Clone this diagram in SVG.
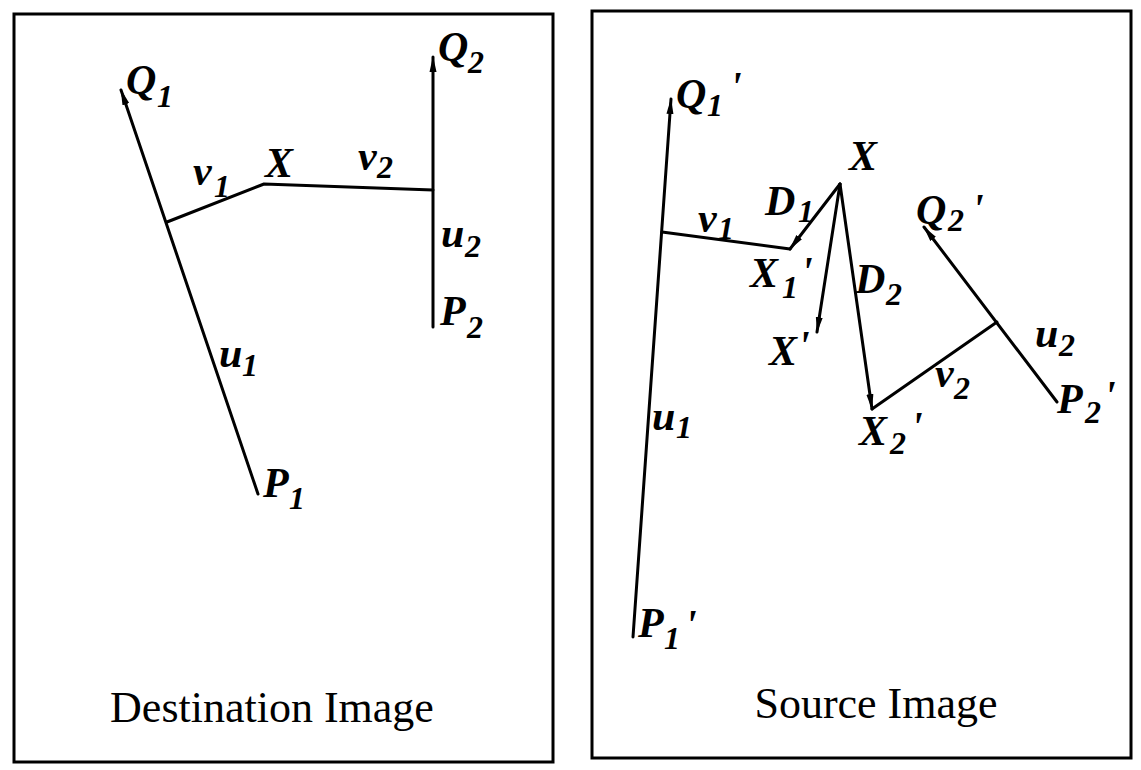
<svg xmlns="http://www.w3.org/2000/svg" width="1141" height="770" viewBox="0 0 1141 770">
<defs>
<style>
.frame{fill:none;stroke:#000;stroke-width:3}
.ln{fill:none;stroke:#000;stroke-width:3;stroke-linecap:round;stroke-linejoin:round}
.arr{marker-end:url(#ah)}
.lbl{font-family:"Liberation Serif","Times New Roman",serif;font-weight:bold;font-style:italic;font-size:42px;fill:#000}
.sub{font-size:32px}
.cap{font-family:"Liberation Serif","Times New Roman",serif;font-size:44px;fill:#000;text-anchor:middle}
</style>
<marker id="ah" viewBox="0 0 16 8" refX="15" refY="4" markerWidth="16" markerHeight="8" markerUnits="userSpaceOnUse" orient="auto">
<path d="M0,0.5 L16,4 L0,7.5 Z" fill="#000"/>
</marker>
</defs>
<rect fill="#fff" x="0" y="0" width="1141" height="770"/>
<g id="panel-destination">
<rect class="frame" x="14" y="14" width="539" height="748"/>
<text class="cap" x="272" y="722">Destination Image</text>
</g>
<g id="panel-source">
<rect class="frame" x="592" y="11" width="539" height="747"/>
<text class="cap" x="876" y="718">Source Image</text>
</g>
<g id="connectors">
<line class="ln arr" x1="258" y1="494" x2="121" y2="90"/>
<polyline class="ln" points="167,222 264,184 433,190"/>
<line class="ln arr" x1="433" y1="327" x2="433" y2="57"/>
<line class="ln arr" x1="633" y1="637" x2="671" y2="99"/>
<line class="ln" x1="662" y1="232" x2="790" y2="249"/>
<line class="ln arr" x1="840" y1="184" x2="790" y2="249"/>
<line class="ln arr" x1="840" y1="184" x2="817" y2="332"/>
<line class="ln arr" x1="840" y1="184" x2="872" y2="409"/>
<line class="ln" x1="872" y1="409" x2="997" y2="322"/>
<line class="ln arr" x1="1057" y1="402" x2="924" y2="227"/>
</g>
<g id="label-Q1"><text class="lbl"><tspan x="126" y="94">Q</tspan><tspan class="sub" x="157" y="107">1</tspan></text></g>
<g id="label-v1-dest"><text class="lbl"><tspan x="193" y="185">v</tspan><tspan class="sub" x="214" y="197">1</tspan></text></g>
<g id="label-X-dest"><text class="lbl"><tspan x="265" y="177">X</tspan></text></g>
<g id="label-v2-dest"><text class="lbl"><tspan x="358" y="170">v</tspan><tspan class="sub" x="377" y="178">2</tspan></text></g>
<g id="label-Q2"><text class="lbl"><tspan x="438" y="61">Q</tspan><tspan class="sub" x="468" y="73">2</tspan></text></g>
<g id="label-u2-dest"><text class="lbl"><tspan x="441" y="247">u</tspan><tspan class="sub" x="465" y="257">2</tspan></text></g>
<g id="label-P2"><text class="lbl"><tspan x="440" y="325">P</tspan><tspan class="sub" x="467" y="338">2</tspan></text></g>
<g id="label-u1-dest"><text class="lbl"><tspan x="219" y="367">u</tspan><tspan class="sub" x="242" y="376">1</tspan></text></g>
<g id="label-P1"><text class="lbl"><tspan x="263" y="497">P</tspan><tspan class="sub" x="289" y="509">1</tspan></text></g>
<g id="label-Q1p"><text class="lbl"><tspan x="676" y="108">Q</tspan><tspan class="sub" x="707" y="116">1</tspan><tspan x="730" y="101">'</tspan></text></g>
<g id="label-X-src"><text class="lbl"><tspan x="849" y="170">X</tspan></text></g>
<g id="label-v1-src"><text class="lbl"><tspan x="698" y="232">v</tspan><tspan class="sub" x="718" y="239">1</tspan></text></g>
<g id="label-D1"><text class="lbl"><tspan x="765" y="215">D</tspan><tspan class="sub" x="798" y="222">1</tspan></text></g>
<g id="label-X1p"><text class="lbl"><tspan x="750" y="287">X</tspan><tspan class="sub" x="782" y="298">1</tspan><tspan x="801" y="286">'</tspan></text></g>
<g id="label-Xp"><text class="lbl"><tspan x="769" y="365">X</tspan><tspan x="798" y="360">'</tspan></text></g>
<g id="label-D2"><text class="lbl"><tspan x="855" y="293">D</tspan><tspan class="sub" x="886" y="305">2</tspan></text></g>
<g id="label-Q2p"><text class="lbl"><tspan x="916" y="224">Q</tspan><tspan class="sub" x="948" y="231">2</tspan><tspan x="972" y="223">'</tspan></text></g>
<g id="label-u2-src"><text class="lbl"><tspan x="1035" y="347">u</tspan><tspan class="sub" x="1059" y="356">2</tspan></text></g>
<g id="label-v2-src"><text class="lbl"><tspan x="935" y="387">v</tspan><tspan class="sub" x="954" y="399">2</tspan></text></g>
<g id="label-P2p"><text class="lbl"><tspan x="1057" y="413">P</tspan><tspan class="sub" x="1085" y="423">2</tspan><tspan x="1104" y="410">'</tspan></text></g>
<g id="label-X2p"><text class="lbl"><tspan x="859" y="445">X</tspan><tspan class="sub" x="890" y="454">2</tspan><tspan x="911" y="441">'</tspan></text></g>
<g id="label-u1-src"><text class="lbl"><tspan x="652" y="430">u</tspan><tspan class="sub" x="676" y="438">1</tspan></text></g>
<g id="label-P1p"><text class="lbl"><tspan x="638" y="637">P</tspan><tspan class="sub" x="664" y="649">1</tspan><tspan x="685" y="639">'</tspan></text></g>
</svg>
